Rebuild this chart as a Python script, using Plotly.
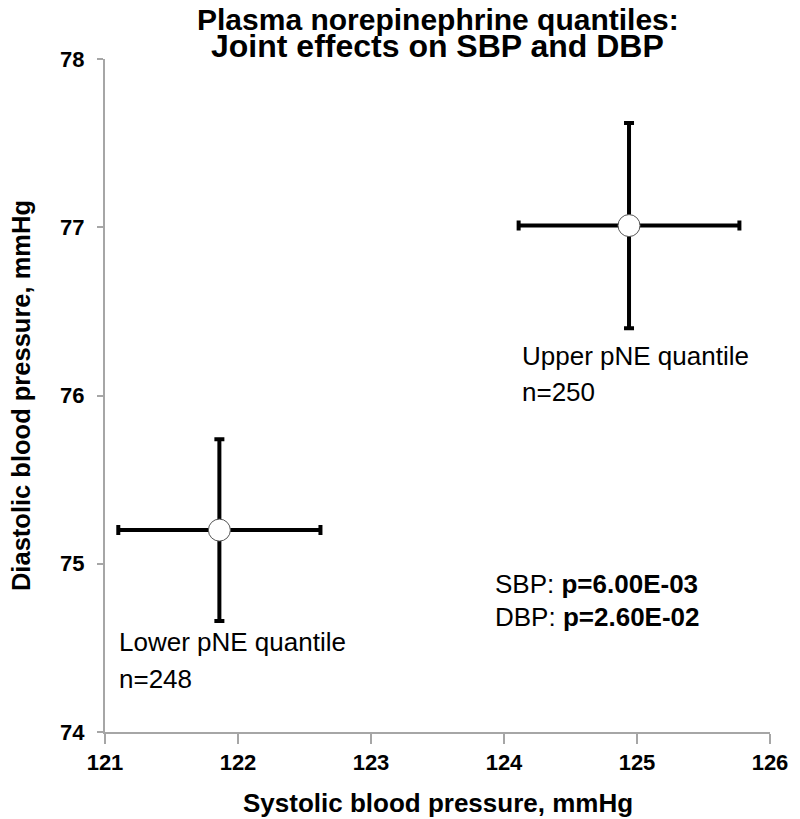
import plotly.graph_objects as go

groups = ["Lower pNE quantile", "Upper pNE quantile"]
counts = ["n=248", "n=250"]
sbp = [121.86, 124.94]
dbp = [75.20, 77.01]
sbp_err = [0.76, 0.83]
dbp_err = [0.54, 0.61]
x_ticks = [121, 122, 123, 124, 125, 126]
y_ticks = [74, 75, 76, 77, 78]
p_lines = [("SBP", "6.00E-03"), ("DBP", "2.60E-02")]

FONT = "Liberation Sans, Arial, sans-serif"

fig = go.Figure()
fig.add_trace(go.Scatter(
    x=sbp, y=dbp, mode="markers",
    marker=dict(symbol="circle", size=22, color="white",
                line=dict(color="#555555", width=1)),
    error_x=dict(type="data", array=sbp_err, visible=True,
                 color="black", thickness=4, width=5),
    error_y=dict(type="data", array=dbp_err, visible=True,
                 color="black", thickness=4, width=5),
    showlegend=False, hoverinfo="skip",
))

ann = []
# group labels
label_pos = [(121.09, 74.535, 74.315), (124.12, 76.237, 76.019)]
for (lx, y1, y2), g, n in zip(label_pos, groups, counts):
    ann.append(dict(x=lx, y=y1, text=g, xanchor="left", yanchor="middle",
                    showarrow=False, font=dict(size=26, color="black", family=FONT)))
    ann.append(dict(x=lx, y=y2, text=n, xanchor="left", yanchor="middle",
                    showarrow=False, font=dict(size=26, color="black", family=FONT)))
# p-values
for (name, pv), py in zip(p_lines, [74.88, 74.684]):
    ann.append(dict(x=123.92, y=py, text=f"{name}: <b>p={pv}</b>", xanchor="left",
                    yanchor="middle", showarrow=False,
                    font=dict(size=26, color="black", family=FONT)))
# title lines
for txt, yp, fs in [("Plasma norepinephrine quantiles:", 1.0594, 30),
                    ("Joint effects on SBP and DBP", 1.0193, 32)]:
    ann.append(dict(x=0.5, y=yp, xref="paper", yref="paper", text=f"<b>{txt}</b>",
                    xanchor="center", yanchor="middle", showarrow=False,
                    font=dict(size=fs, color="black", family=FONT)))
# axis titles
ann.append(dict(x=0.5, y=-0.106, xref="paper", yref="paper",
                text="<b>Systolic blood pressure, mmHg</b>", xanchor="center",
                yanchor="middle", showarrow=False,
                font=dict(size=26, color="black", family=FONT)))
ann.append(dict(x=-0.127, y=0.5, xref="paper", yref="paper",
                text="<b>Diastolic blood pressure, mmHg</b>", textangle=-90,
                xanchor="center", yanchor="middle", showarrow=False,
                font=dict(size=25.5, color="black", family=FONT)))

# page body has an 8px default margin, so the figure is sized/margined to compensate
fig.update_layout(
    width=792, height=811,
    margin=dict(l=97, r=22, t=51, b=87),
    plot_bgcolor="white", paper_bgcolor="white",
    annotations=ann,
    xaxis=dict(range=[121, 126], tickvals=x_ticks, ticktext=[f"<b>{v}</b>" for v in x_ticks],
               showgrid=False, zeroline=False, showline=True, linecolor="#a6a6a6",
               linewidth=2, ticks="outside", ticklen=10, tickwidth=1.5, tickcolor="#a6a6a6",
               tickfont=dict(size=22, color="black", family=FONT)),
    yaxis=dict(range=[74, 78], tickvals=y_ticks, ticktext=[f"<b>{v}</b>" for v in y_ticks],
               showgrid=False, zeroline=False, showline=True, linecolor="#a6a6a6",
               linewidth=2, ticks="outside", ticklen=6, tickwidth=1.5, tickcolor="#a6a6a6",
               ticklabelstandoff=8,
               tickfont=dict(size=22, color="black", family=FONT)),
)

fig.write_html("out.html")
